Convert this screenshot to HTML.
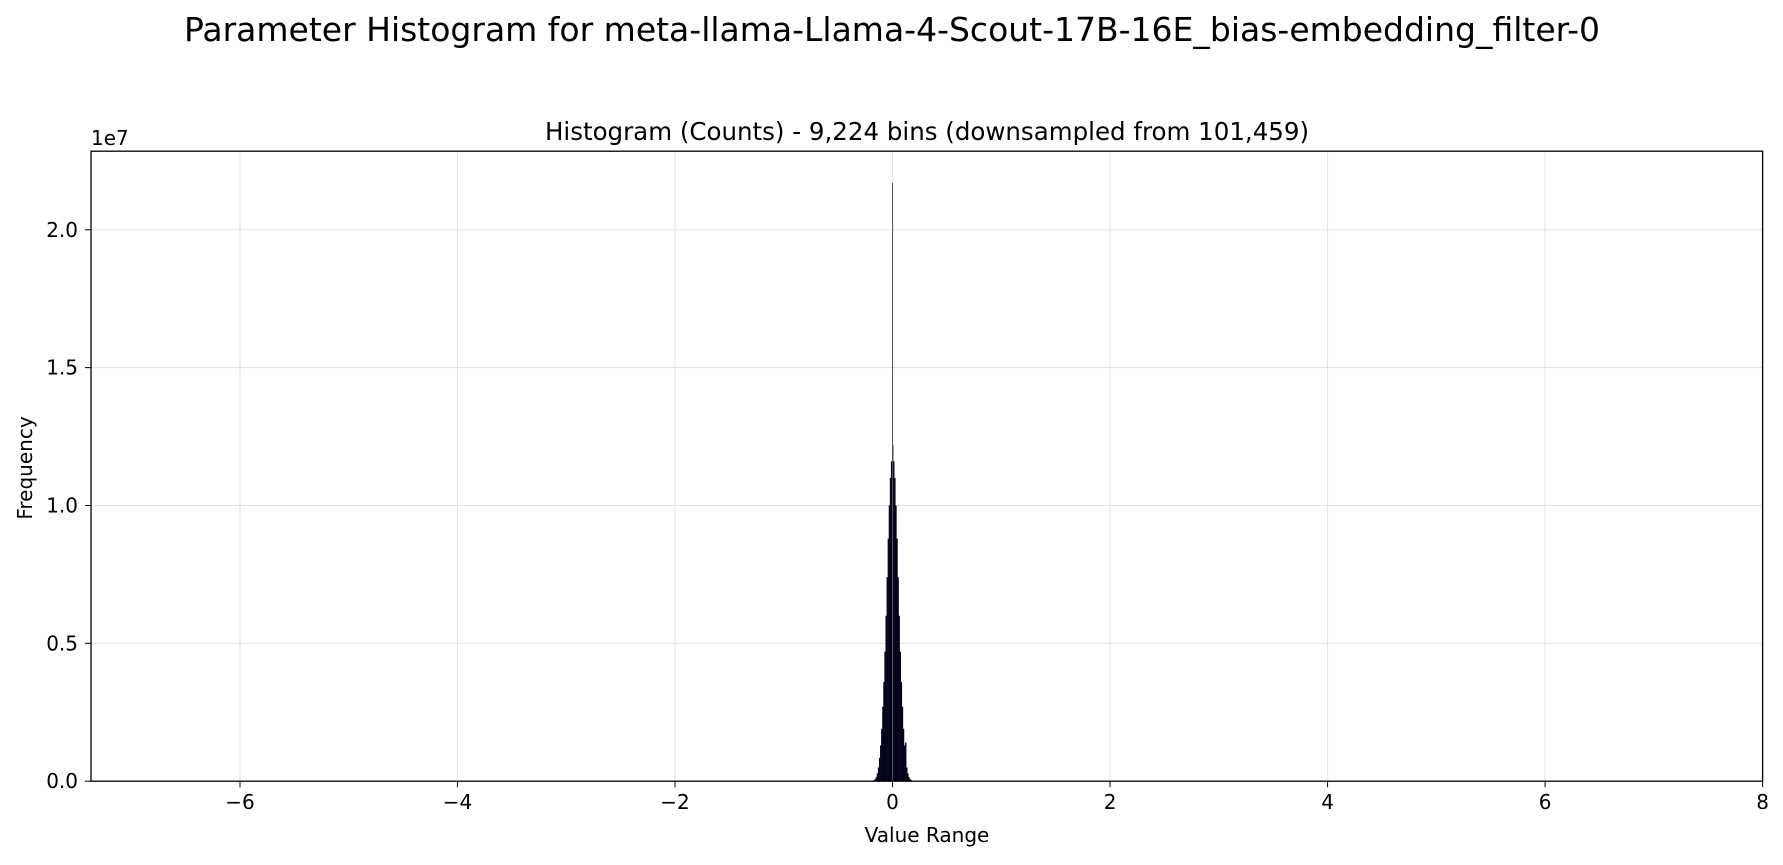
<!DOCTYPE html>
<html><head><meta charset="utf-8"><style>
body{margin:0;background:#fff;font-family:"Liberation Sans","DejaVu Sans",sans-serif;}
svg text{font-family:"DejaVu Sans","Liberation Sans",sans-serif;fill:#000;}
</style></head><body>
<svg id="chart" width="1783" height="860" viewBox="0 0 1783 860" xmlns="http://www.w3.org/2000/svg">
<rect width="1783" height="860" fill="#fff"/>
<text x="892" y="41" font-size="33" text-anchor="middle">Parameter Histogram for meta-llama-Llama-4-Scout-17B-16E_bias-embedding_filter-0</text>
<text x="927" y="140" font-size="24.5" text-anchor="middle">Histogram (Counts) - 9,224 bins (downsampled from 101,459)</text>
<g id="grid"></g>
<g id="bars"></g>
<rect x="91" y="151.2" width="1671.6" height="630" fill="none" stroke="#000" stroke-width="1.3"/>
<g id="axes"></g>
<text x="91" y="145" font-size="20">1e7</text>
<text x="927" y="842" font-size="20" text-anchor="middle">Value Range</text>
<text x="32" y="468" font-size="20" text-anchor="middle" transform="rotate(-90 32 468)">Frequency</text>
</svg>
<script>
const binCenters=[-0.17,-0.16,-0.15,-0.14,-0.13,-0.12,-0.11,-0.10,-0.09,-0.08,-0.07,-0.06,-0.05,-0.04,-0.03,-0.02,-0.01,0,0.01,0.02,0.03,0.04,0.05,0.06,0.07,0.08,0.09,0.10,0.11,0.12,0.13,0.14,0.15,0.16,0.17];
const binCounts=[0.004,0.008,0.015,0.028,0.05,0.085,0.13,0.19,0.27,0.36,0.47,0.6,0.74,0.88,1.0,1.10,1.16,1.22,1.16,1.10,1.0,0.88,0.74,0.6,0.47,0.36,0.27,0.19,0.13,0.14,0.05,0.028,0.015,0.008,0.004];
const spikeX=[0.0];
const spikeCounts=[2.17];
const xTicks=[-6,-4,-2,0,2,4,6,8];
const xTickLabels=["\u22126","\u22124","\u22122","0","2","4","6","8"];
const yTicks=[0,0.5,1.0,1.5,2.0];
const yTickLabels=["0.0","0.5","1.0","1.5","2.0"];
const X0=91,X1=1762.6,Y0=781.2,Y1=151.2,XMIN=-7.37,XMAX=8.0,YMAX=2.285;
const xs=v=>X0+(v-XMIN)/(XMAX-XMIN)*(X1-X0);
const ys=v=>Y0-v/YMAX*(Y0-Y1);
const NS="http://www.w3.org/2000/svg";
function mk(tag,attrs,parent){const e=document.createElementNS(NS,tag);for(const k in attrs)e.setAttribute(k,attrs[k]);parent.appendChild(e);return e;}
const grid=document.getElementById('grid'),bars=document.getElementById('bars'),axes=document.getElementById('axes');
xTicks.forEach((t,i)=>{const x=xs(t);
 const g=mk('line',{x1:x,x2:x,y1:Y1,y2:Y0,stroke:'#e3e3e3','stroke-width':1},grid);
 
 
 const tk=mk('line',{x1:x,x2:x,y1:Y0,y2:Y0+6,stroke:'#000','stroke-width':1},axes);
 
 
 const tx=mk('text',{x:x,y:Y0+28,'font-size':20,'text-anchor':'middle'},axes);tx.textContent=xTickLabels[i];
 
 
});
yTicks.forEach((t,i)=>{const y=ys(t);
 const g=mk('line',{x1:X0,x2:X1,y1:y,y2:y,stroke:'#e3e3e3','stroke-width':1},grid);
 
 
 const tk=mk('line',{x1:X0-6,x2:X0,y1:y,y2:y,stroke:'#000','stroke-width':1},axes);
 
 
 const tx=mk('text',{x:X0-13,y:y+7,'font-size':20,'text-anchor':'end'},axes);tx.textContent=yTickLabels[i];
 
 
});
const bw=0.01;
binCenters.forEach((c,i)=>{const xa=xs(c-bw/2),xb=xs(c+bw/2),y=ys(binCounts[i]);
 const r=mk('rect',{x:xa,y:y,width:Math.max(xb-xa,0.5)+0.3,height:Y0-y,fill:'#03031a'},bars);
 
 
});
spikeX.forEach((c,i)=>{const x=xs(c);
 const l=mk('line',{x1:x,x2:x,y1:ys(spikeCounts[i]),y2:Y0,stroke:'#555','stroke-width':1},bars);
 
 
});
</script>
</body></html>
